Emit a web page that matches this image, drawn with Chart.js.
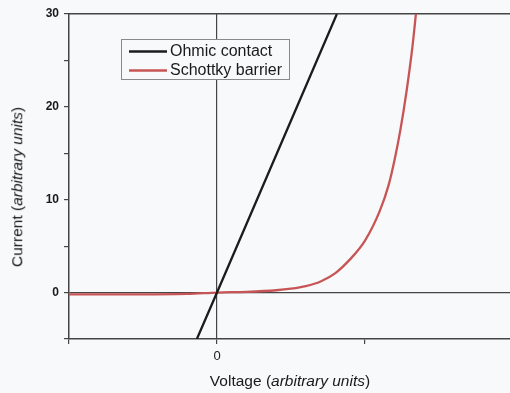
<!DOCTYPE html>
<html><head><meta charset="utf-8">
<script src="https://cdn.jsdelivr.net/npm/chart.js@4"></script>
<style>
html,body{margin:0;padding:0;background:#f8f9fb;}
#wrap{position:relative;width:510px;height:393px;overflow:hidden;background:#f8f9fb;font-family:"Liberation Sans",Arial,sans-serif;color:#1a1a1a;}
#c{position:absolute;left:0;top:0;}
.ttl{position:absolute;font-size:15.5px;white-space:nowrap;color:#1a1a1a;line-height:1;}
#xt{left:290px;top:373px;transform:translateX(-50%);}
#yt{left:17px;top:187px;transform:translate(-50%,-50%) rotate(-90deg);}
</style></head>
<body><div id="wrap"><canvas id="c" width="560" height="393"></canvas>
<div class="ttl" id="xt">Voltage (<i>arbitrary units</i>)</div>
<div class="ttl" id="yt">Current (<i>arbitrary units</i>)</div>
</div>
<script>
const seriesNames = ["Ohmic contact", "Schottky barrier"];
const ohmicV = [-0.068, 0, 0.405];
const ohmicI = [-5, 0, 30];
const schottkyV = [-0.5, -0.3, -0.1, 0, 0.1, 0.2, 0.25, 0.3, 0.35, 0.4, 0.45, 0.5, 0.55, 0.58, 0.6, 0.62, 0.64, 0.66, 0.672];
const schottkyI = [-0.2, -0.2, -0.15, 0, 0.08, 0.25, 0.42, 0.7, 1.2, 2.1, 3.6, 5.6, 8.8, 11.6, 14.3, 17.6, 21.6, 26.4, 30];
const xTicks = [-0.5, 0, 0.5, 1];
const yTicks = [-5, 0, 5, 10, 15, 20, 25, 30];
const xLabels = {"0": "0", "1": "1"};
const yLabels = {"0": "0", "10": "10", "20": "20", "30": "30"};

const colors = ["#1c1c1c", "#c85555"];
const axisColor = "#454545";

const legendPlugin = {
  id: "boxLegend",
  afterDraw(chart) {
    const ctx = chart.ctx;
    ctx.save();
    ctx.strokeStyle = "#8a8a8a";
    ctx.lineWidth = 1;
    ctx.fillStyle = "#f8f9fb";
    ctx.fillRect(121.5, 39.5, 168, 40);
    ctx.strokeRect(121.5, 39.5, 168, 40);
    const ys = [51.5, 70.5];
    chart.data.datasets.forEach((ds, i) => {
      ctx.strokeStyle = ds.borderColor;
      ctx.lineWidth = 2.5;
      ctx.beginPath();
      ctx.moveTo(129, ys[i]);
      ctx.lineTo(167, ys[i]);
      ctx.stroke();
      ctx.fillStyle = "#1a1a1a";
      ctx.font = "16px 'Liberation Sans', Arial, sans-serif";
      ctx.textBaseline = "middle";
      ctx.fillText(ds.label, 170, ys[i] + 0.5);
    });
    ctx.restore();
  }
};

new Chart(document.getElementById("c"), {
  type: "line",
  data: {
    datasets: [
      { label: seriesNames[0], data: ohmicV.map((v, i) => ({x: v, y: ohmicI[i]})), borderColor: colors[0], borderWidth: 2.3, pointRadius: 0, tension: 0 },
      { label: seriesNames[1], data: schottkyV.map((v, i) => ({x: v, y: schottkyI[i]})), borderColor: colors[1], borderWidth: 2.3, pointRadius: 0, cubicInterpolationMode: "monotone" }
    ]
  },
  options: {
    responsive: false,
    animation: false,
    layout: { padding: { left: 0, top: 14, right: 47, bottom: 0 } },
    plugins: { legend: { display: false }, tooltip: { enabled: false } },
    scales: {
      x: {
        type: "linear", min: -0.5, max: 1,
        afterBuildTicks: s => { s.ticks = xTicks.map(v => ({value: v})); },
        afterFit: s => { s.height = 54; },
        ticks: { callback: v => xLabels[String(v)] ?? "", color: "#1a1a1a", font: { size: 13, family: "'Liberation Sans', Arial" }, padding: 5, maxRotation: 0, autoSkip: false },
        grid: { color: c => (c.tick && c.tick.value === 0) ? axisColor : "rgba(0,0,0,0)", lineWidth: 1.2, tickColor: axisColor, tickLength: 5 },
        border: { display: true, color: axisColor, width: 1.5 }
      },
      x2: {
        type: "linear", position: "top", min: -0.5, max: 1,
        afterFit: s => { s.height = 0; },
        ticks: { display: false },
        grid: { drawOnChartArea: false, drawTicks: false },
        border: { display: true, color: axisColor, width: 1.5 }
      },
      y: {
        type: "linear", min: -5, max: 30,
        afterBuildTicks: s => { s.ticks = yTicks.map(v => ({value: v})); },
        afterFit: s => { s.width = 69; },
        ticks: { callback: v => yLabels[String(v)] ?? "", color: "#1a1a1a", font: { size: 12, weight: "bold", family: "'Liberation Sans', Arial" }, padding: 5 },
        grid: { color: c => (c.tick && c.tick.value === 0) ? axisColor : "rgba(0,0,0,0)", lineWidth: 1.2, tickColor: axisColor, tickLength: 5 },
        border: { display: true, color: axisColor, width: 1.5 }
      }
    }
  },
  plugins: [legendPlugin]
});
</script>
</body></html>
